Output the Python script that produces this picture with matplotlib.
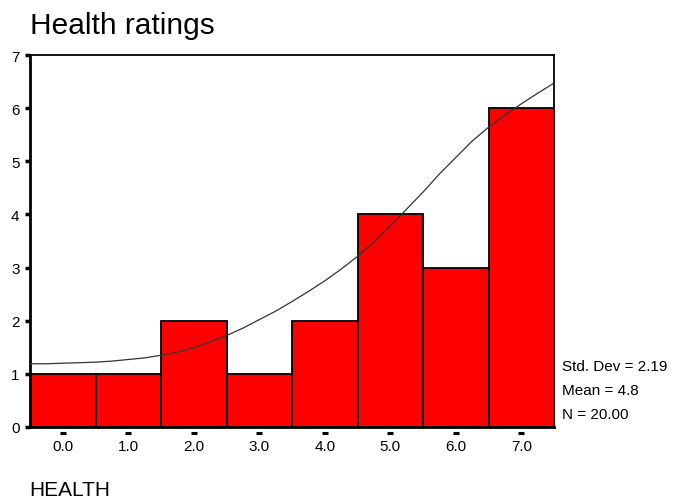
import matplotlib.pyplot as plt

plt.rcParams['font.family'] = ['Liberation Sans', 'DejaVu Sans']

# health rating categories and their frequencies
ratings = [0, 1, 2, 3, 4, 5, 6, 7]
counts = [1, 1, 2, 1, 2, 4, 3, 6]
tick_labels = ['0.0', '1.0', '2.0', '3.0', '4.0', '5.0', '6.0', '7.0']

# fitted curve, sampled along the rating axis
curve_x = [-0.5, -0.25, 0.0, 0.25, 0.5, 0.75, 1.0, 1.25, 1.5, 1.75, 2.0,
           2.25, 2.5, 2.75, 3.0, 3.25, 3.5, 3.75, 4.0, 4.25, 4.5, 4.75,
           5.0, 5.25, 5.5, 5.75, 6.0, 6.25, 6.5, 6.75, 7.0, 7.25, 7.5]
curve_y = [1.19, 1.19, 1.20, 1.21, 1.22, 1.24, 1.27, 1.30, 1.35, 1.41, 1.49,
           1.60, 1.72, 1.86, 2.02, 2.18, 2.36, 2.55, 2.75, 2.97, 3.21, 3.48,
           3.78, 4.10, 4.42, 4.76, 5.07, 5.38, 5.64, 5.87, 6.08, 6.28, 6.47]

stats = ['Std. Dev = 2.19', 'Mean = 4.8', 'N = 20.00']

fig = plt.figure(figsize=(6.8, 5.02), dpi=100)
ax = fig.add_axes([30 / 680, 1 - 428 / 502, 524 / 680, 372 / 502])

ax.bar(ratings, counts, width=1.0, color='#ff0000', edgecolor='black',
       linewidth=1.3, zorder=2)
ax.plot(curve_x, curve_y, color='#333333', lw=0.9, zorder=3)

ax.set_xlim(-0.5, 7.5)
ax.set_ylim(0, 7)

# y axis: small square ticks on the left
ax.set_yticks(range(8))
ax.tick_params(axis='y', direction='out', length=3.5, width=2.5, pad=4,
               labelsize=11)

# x axis: detached dashes under each bar centre
ax.set_xticks(ratings)
ax.set_xticklabels(tick_labels)
ax.tick_params(axis='x', length=0, pad=9, labelsize=11)
ax.plot(ratings, [-0.016] * len(ratings), ls='', marker='_', ms=4, mew=2.2,
        color='black', transform=ax.get_xaxis_transform(), clip_on=False)

for side in ['left', 'bottom']:
    ax.spines[side].set_linewidth(2)
for side in ['top', 'right']:
    ax.spines[side].set_linewidth(1.3)

fig.text(30 / 680, 1 - 26 / 502, 'Health ratings', fontsize=21.5,
         ha='left', va='center')

for i, s in enumerate(stats):
    fig.text(562 / 680, 1 - (367 + i * 24) / 502, s, fontsize=11,
             ha='left', va='center')

fig.text(29 / 680, 1 - 491 / 502, 'HEALTH', fontsize=15,
         ha='left', va='center')

fig.savefig('out.png', dpi=100)
